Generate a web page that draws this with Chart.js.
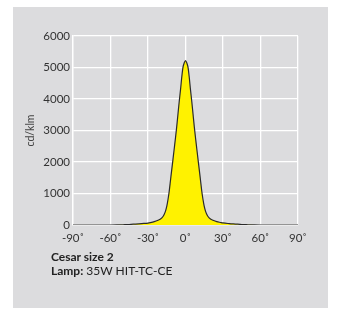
<!DOCTYPE html>
<html>
<head>
<meta charset="utf-8">
<script src="https://cdn.jsdelivr.net/npm/chart.js@4/dist/chart.umd.min.js"></script>
<style>
  html, body { margin: 0; padding: 0; background: #ffffff; }
  #wrap { position: relative; width: 339px; height: 309px; }
  #panel { position: absolute; left: 13px; top: 7px; width: 315px; height: 301px; background: #dcdcde; }
  canvas { position: absolute; left: 0; top: 0; }
  .cap { position: absolute; left: 51px; font-family: Lato, "Open Sans", sans-serif; font-size: 12px; color: #222; white-space: nowrap; }
  .b { font-weight: bold; }
</style>
</head>
<body>
<div id="wrap">
  <div id="panel"></div>
  <canvas id="c" width="339" height="309"></canvas>
  <div class="cap b" style="top:249px;">Cesar size 2</div>
  <div class="cap" style="top:263px;"><span class="b">Lamp:</span> 35W HIT-TC-CE</div>
</div>
<script>
const angles = [-90,-60,-55,-50,-45,-40,-35,-30,-28,-25,-22,-20,-18,-17,-16,-15,-14,-13,-12,-11,-10,-9,-8,-7,-6,-5,-4,-3,-2,-1,0,1,2,3,4,5,6,7,8,9,10,11,12,13,14,15,16,17,18,20,22,25,28,30,35,40,45,50,55,60,90];
const intensity = [0,0,2,8,15,30,45,60,75,105,150,190,270,340,440,590,810,1080,1420,1760,2090,2430,2770,3130,3530,3930,4290,4690,5010,5150,5220,5150,5010,4690,4290,3930,3530,3130,2770,2430,2090,1760,1420,1080,810,590,440,340,270,190,150,105,80,65,45,30,15,8,2,0,0];
const xTickLabels = ['-90˚','-60˚','-30˚','0˚','30˚','60˚','90˚'];
const yTickLabels = ['0','1000','2000','3000','4000','5000','6000'];
const yTitle = 'cd/klm';

const pts = angles.map((a, i) => ({ x: a, y: intensity[i] }));
const tickFont = { family: 'Lato, "Open Sans", sans-serif', size: 11.5 };

new Chart(document.getElementById('c'), {
  type: 'line',
  data: {
    datasets: [{
      data: pts,
      borderColor: '#2a2a2a',
      borderWidth: 1.2,
      backgroundColor: '#fff200',
      fill: 'origin',
      pointRadius: 0,
      cubicInterpolationMode: 'monotone'
    }]
  },
  options: {
    responsive: false,
    animation: false,
    layout: { padding: { left: 24, right: 41, top: 36, bottom: 64 } },
    plugins: { legend: { display: false }, tooltip: { enabled: false } },
    scales: {
      x: {
        type: 'linear', min: -90, max: 90,
        afterFit: s => { s.height = 20; },
        afterBuildTicks: s => { s.ticks = xTickLabels.map((l, i) => ({ value: -90 + 30 * i })); },
        ticks: {
          callback: (v, i) => xTickLabels[i],
          color: '#333', font: tickFont, padding: 6, maxRotation: 0, autoSkip: false
        },
        grid: { color: '#ffffff', lineWidth: 1.3, drawTicks: false },
        border: { color: '#ffffff', width: 1.3 }
      },
      y: {
        min: 0, max: 6000,
        afterFit: s => { s.width = 49; },
        afterBuildTicks: s => { s.ticks = yTickLabels.map((l, i) => ({ value: 1000 * i })); },
        ticks: {
          callback: (v, i) => yTickLabels[i],
          color: '#333', font: tickFont, padding: 3
        },
        title: { display: true, text: yTitle, color: '#444', font: { family: 'Lato, "Open Sans", sans-serif', size: 10.5 }, padding: 0 },
        grid: { color: '#ffffff', lineWidth: 1.3, drawTicks: false },
        border: { color: '#ffffff', width: 1.3 }
      }
    }
  }
});
</script>
</body>
</html>
